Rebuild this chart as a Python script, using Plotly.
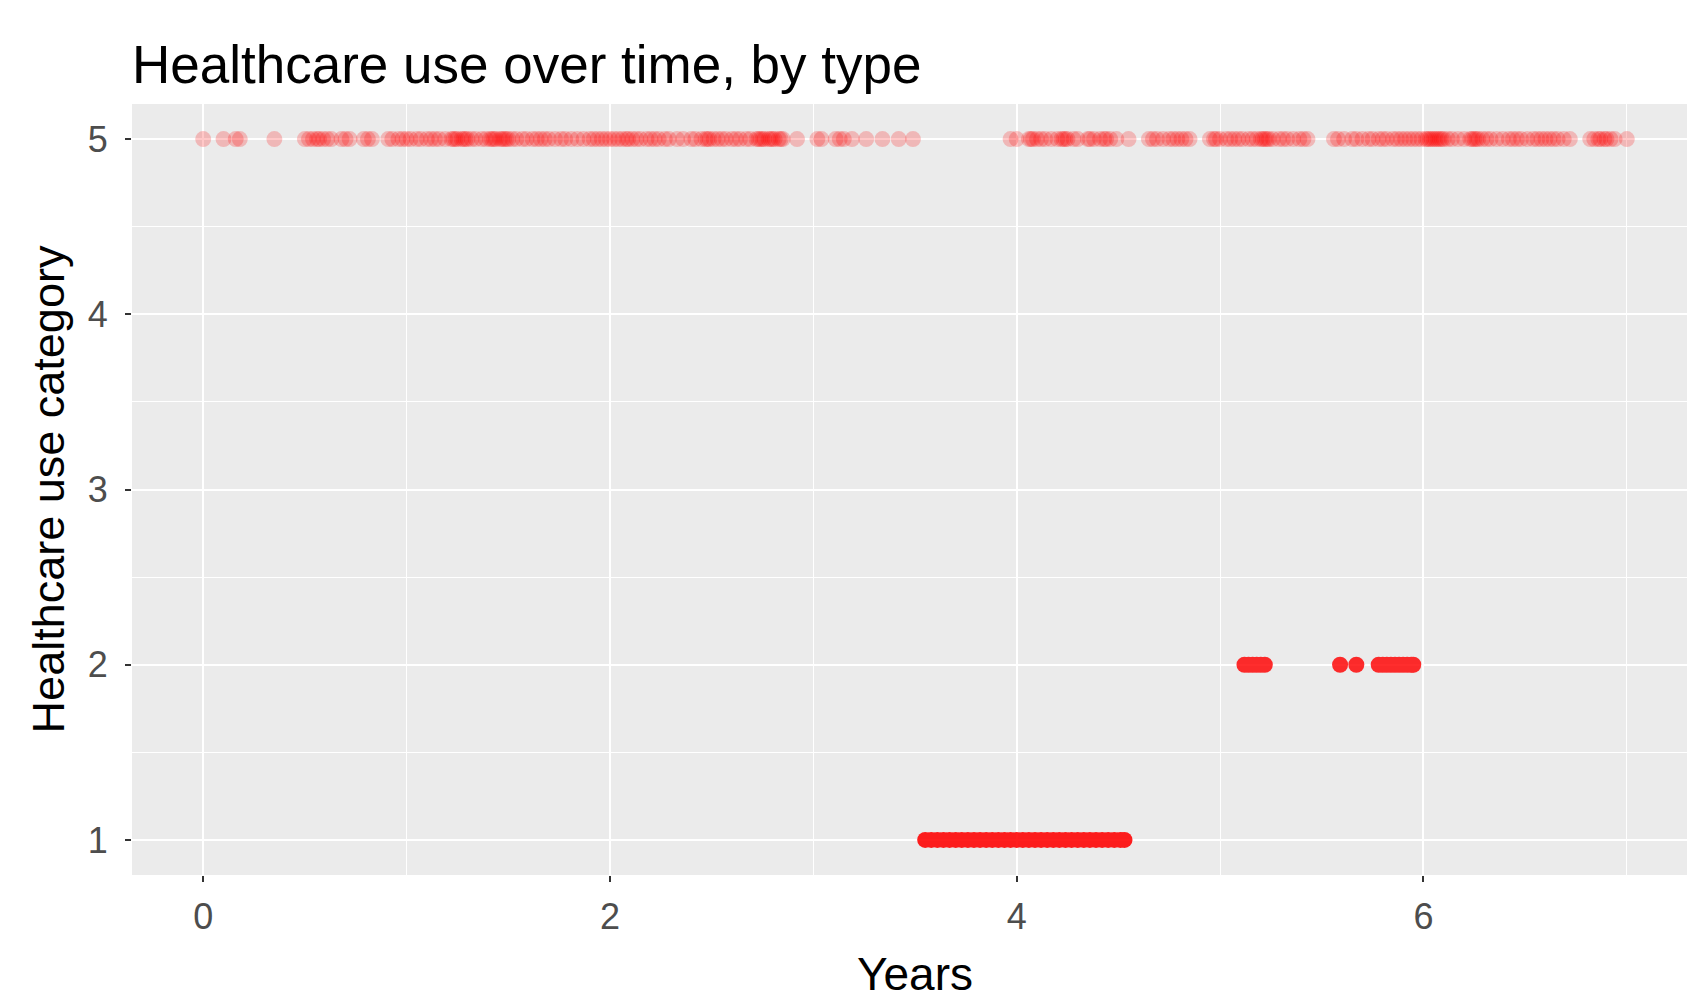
import plotly.graph_objects as go

# Category 5 events (years)
years_cat5 = [
    0.00, 0.10, 0.16, 0.18, 0.35,
    0.50, 0.52, 0.54, 0.56, 0.57, 0.59, 0.61, 0.63, 0.68, 0.70, 0.72, 0.79, 0.81, 0.83,
    0.91, 0.93, 0.96, 0.98, 1.00, 1.02, 1.05, 1.07, 1.10, 1.12, 1.14, 1.16, 1.19,
    1.22, 1.23, 1.24, 1.25, 1.27, 1.28, 1.29, 1.30, 1.32, 1.34, 1.37, 1.39,
    1.41, 1.42, 1.43, 1.44, 1.46, 1.47, 1.48, 1.49, 1.50, 1.52, 1.54, 1.57, 1.59,
    1.62, 1.64, 1.66, 1.68, 1.70, 1.73, 1.76, 1.78, 1.81, 1.84, 1.87, 1.90, 1.92,
    1.94, 1.96, 1.98, 2.00, 2.02, 2.04, 2.06, 2.08, 2.09, 2.11, 2.13, 2.15, 2.18,
    2.20, 2.22, 2.24, 2.27, 2.29, 2.33, 2.36, 2.40, 2.42, 2.45, 2.47, 2.48, 2.49,
    2.51, 2.53, 2.55, 2.57, 2.60, 2.62, 2.64, 2.67, 2.69, 2.72, 2.73, 2.74, 2.75,
    2.76, 2.78, 2.79, 2.80, 2.81, 2.83, 2.84, 2.85, 2.92,
    3.02, 3.04, 3.11, 3.13, 3.15, 3.19, 3.26, 3.34, 3.42, 3.49,
    3.97, 4.00, 4.06, 4.07, 4.08, 4.10, 4.12, 4.14, 4.17, 4.20, 4.22, 4.23, 4.24,
    4.25, 4.28, 4.30, 4.35, 4.36, 4.38, 4.41, 4.43, 4.44, 4.46, 4.49, 4.55,
    4.65, 4.67, 4.69, 4.72, 4.75, 4.77, 4.79, 4.81, 4.83, 4.85,
    4.95, 4.97, 4.98, 5.00, 5.03, 5.05, 5.07, 5.09, 5.11, 5.14, 5.16, 5.18, 5.20,
    5.21, 5.22, 5.23, 5.24, 5.26, 5.29, 5.31, 5.33, 5.36, 5.39, 5.41, 5.43,
    5.56, 5.58, 5.61, 5.65, 5.67, 5.70, 5.73, 5.75, 5.78, 5.80, 5.82, 5.85, 5.87,
    5.89, 5.91, 5.93, 5.95, 5.97, 5.99, 6.01, 6.02, 6.03, 6.04, 6.05, 6.06, 6.07,
    6.08, 6.09, 6.10, 6.12, 6.14, 6.17, 6.20, 6.23, 6.24, 6.25, 6.26, 6.27, 6.29,
    6.31, 6.33, 6.36, 6.39, 6.42, 6.44, 6.46, 6.48, 6.51, 6.54, 6.56, 6.58, 6.60,
    6.62, 6.64, 6.66, 6.69, 6.72,
    6.82, 6.84, 6.86, 6.87, 6.89, 6.90, 6.92, 6.94, 7.00,
]

# Category 1 events (years)
years_cat1 = [
    3.55, 3.58, 3.61, 3.64, 3.67, 3.70, 3.73, 3.76, 3.79, 3.82, 3.85, 3.88,
    3.91, 3.94, 3.97, 4.00, 4.03, 4.06, 4.09, 4.12, 4.15, 4.18, 4.21, 4.24,
    4.27, 4.30, 4.33, 4.36, 4.39, 4.42, 4.45, 4.48, 4.51, 4.53,
]

# Category 2 events (years)
years_cat2 = [
    5.12, 5.14, 5.16, 5.18, 5.20, 5.22,
    5.59, 5.67,
    5.78, 5.80, 5.82, 5.84, 5.86, 5.88, 5.90, 5.92, 5.94, 5.95,
]

FONT = "Liberation Sans, Arial, sans-serif"

fig = go.Figure()
fig.add_trace(go.Scatter(
    x=years_cat5, y=[5] * len(years_cat5), mode="markers",
    marker=dict(color="red", size=16, opacity=0.22, line=dict(width=0)),
    showlegend=False,
))
fig.add_trace(go.Scatter(
    x=years_cat1, y=[1] * len(years_cat1), mode="markers",
    marker=dict(color="red", size=16, line=dict(width=0)),
    opacity=0.88, showlegend=False,
))
fig.add_trace(go.Scatter(
    x=years_cat2, y=[2] * len(years_cat2), mode="markers",
    marker=dict(color="red", size=16, line=dict(width=0)),
    opacity=0.82, showlegend=False,
))

# The original panel runs a little past the right edge of the picture,
# so the figure is slightly wider than the window and clipped.
fig.update_layout(
    width=1698, height=1000,
    margin=dict(l=132, r=0, t=104, b=125),
    paper_bgcolor="white", plot_bgcolor="#EBEBEB",
    font=dict(family=FONT),
    title=dict(
        text="Healthcare use over time, by type",
        font=dict(family=FONT, size=53, color="black"),
        x=0, xref="paper", xanchor="left",
        y=0.9355, yref="container", yanchor="middle",
    ),
)
fig.update_xaxes(
    range=[-0.35, 7.35], tick0=0, dtick=2,
    showgrid=True, gridcolor="white", gridwidth=2, zeroline=False, showline=False,
    minor=dict(dtick=1, tick0=0, showgrid=True, gridcolor="white", gridwidth=1),
    ticks="outside", ticklen=6, tickwidth=1.5, tickcolor="#333333",
    tickfont=dict(size=36, color="#4D4D4D"), ticklabelstandoff=4,
    title=dict(text="Years", font=dict(size=46, color="black"), standoff=22),
)
fig.update_yaxes(
    range=[0.8, 5.2], tick0=1, dtick=1,
    showgrid=True, gridcolor="white", gridwidth=2, zeroline=False, showline=False,
    minor=dict(dtick=0.5, tick0=1, showgrid=True, gridcolor="white", gridwidth=1),
    ticks="outside", ticklen=6, tickwidth=1.5, tickcolor="#333333",
    tickfont=dict(size=36, color="#4D4D4D"), ticklabelstandoff=10,
    title=dict(text="Healthcare use category", font=dict(size=45, color="black"), standoff=9),
)

fig.write_html(
    "out.html",
    config={"displayModeBar": False},
    post_script="document.body.style.margin='0';document.body.style.overflow='hidden';",
)
